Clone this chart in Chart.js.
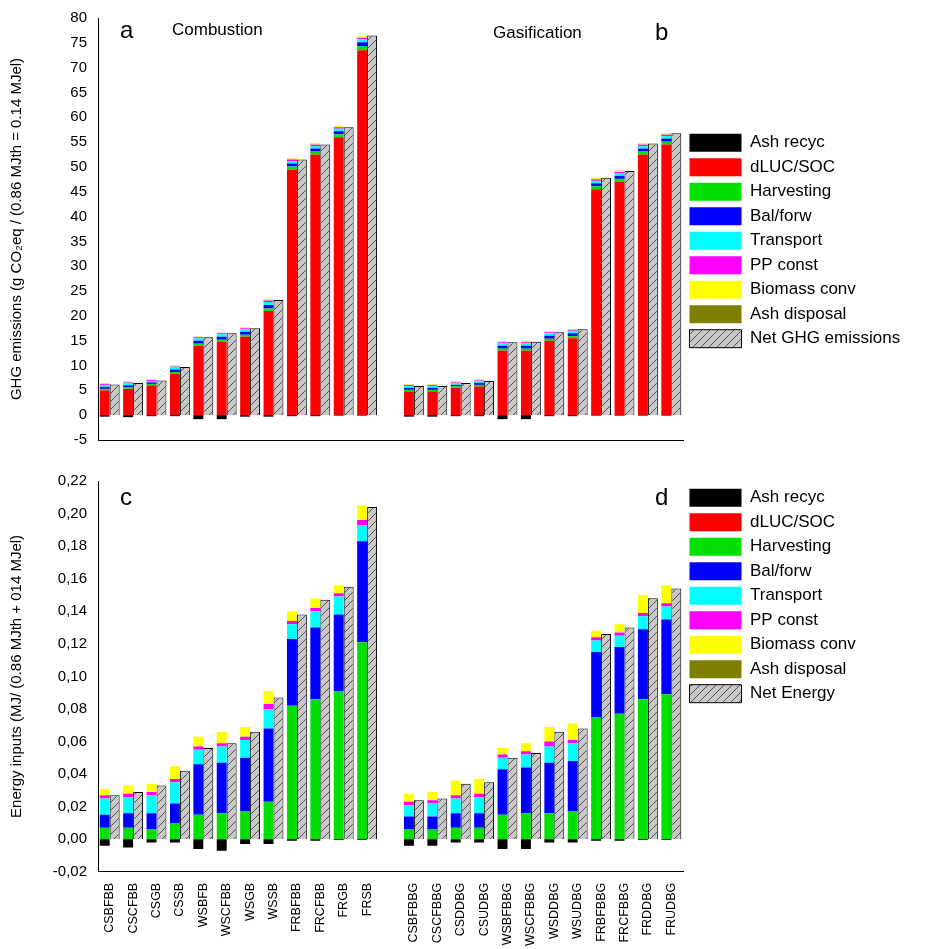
<!DOCTYPE html>
<html><head><meta charset="utf-8">
<script src="https://cdn.jsdelivr.net/npm/chart.js@4"></script>
<style>body{margin:0;background:#fff}#a{position:absolute;left:0;top:0;width:933px;height:470px}#b{position:absolute;left:0;top:465px;width:933px;height:484px}</style>
</head><body>
<div id="a"><canvas id="c1"></canvas></div>
<div id="b"><canvas id="c2"></canvas></div>
<script>
const labels=['CSBFBB','CSCFBB','CSGB','CSSB','WSBFB','WSCFBB','WSGB','WSSB','FRBFBB','FRCFBB','FRGB','FRSB','',
'CSBFBBG','CSCFBBG','CSDDBG','CSUDBG','WSBFBBG','WSCFBBG','WSDDBG','WSUDBG','FRBFBBG','FRCFBBG','FRDDBG','FRUDBG'];
const seriesNames=['Ash recyc','dLUC/SOC','Harvesting','Bal/forw','Transport','PP const','Biomass conv','Ash disposal'];
const colors=['#000000','#ff0000','#00e000','#0000ff','#00ffff','#ff00ff','#ffff00','#808000'];
// GHG (top)
const ghgAsh=[-0.3,-0.4,-0.2,-0.2,-0.8,-0.8,-0.3,-0.3,-0.2,-0.2,-0.1,-0.1,null,-0.3,-0.3,-0.2,-0.2,-0.8,-0.8,-0.2,-0.2,-0.1,-0.1,-0.1,-0.1];
const ghgLUC=[5,5.3,6,8.3,14,14.8,15.8,21,49.5,52.5,56,73.5,null,4.8,4.8,5.5,5.8,13,13,15,15.5,45.5,47,52.5,54.5];
const ghgHarv=[0.3,0.3,0.3,0.4,0.4,0.4,0.4,0.5,0.6,0.6,0.6,0.8,null,0.3,0.3,0.3,0.3,0.4,0.4,0.4,0.4,0.6,0.6,0.6,0.6];
const ghgBal=[0.4,0.4,0.3,0.5,0.6,0.6,0.6,0.7,0.6,0.6,0.6,0.8,null,0.4,0.4,0.3,0.4,0.6,0.6,0.6,0.6,0.6,0.6,0.6,0.6];
const ghgTrans=[0.4,0.4,0.3,0.4,0.5,0.5,0.5,0.6,0.5,0.5,0.5,0.6,null,0.4,0.4,0.3,0.3,0.5,0.5,0.5,0.5,0.5,0.5,0.5,0.5];
const ghgPP=[0.2,0.2,0.2,0.2,0.2,0.2,0.2,0.3,0.3,0.3,0.3,0.3,null,0.2,0.2,0.2,0.2,0.2,0.2,0.2,0.2,0.3,0.3,0.3,0.3];
const ghgConv=[0.1,0.1,0.1,0.1,0.1,0.1,0.1,0.2,0.2,0.2,0.2,0.3,null,0.1,0.1,0.1,0.1,0.1,0.1,0.1,0.1,0.2,0.2,0.2,0.2];
const ghgDisp=[0.05,0.05,0.05,0.05,0.05,0.05,0.05,0.05,0.05,0.05,0.05,0.05,null,0.05,0.05,0.05,0.05,0.05,0.05,0.05,0.05,0.05,0.05,0.05,0.05];
const ghgNet=[6.2,6.5,7,9.7,15.7,16.5,17.5,23.2,51.5,54.5,58,76.5,null,5.9,5.9,6.5,6.9,14.7,14.8,16.7,17.3,47.8,49.2,54.7,56.8];
// Energy (bottom)
const enAsh=[-0.004,-0.005,-0.002,-0.002,-0.006,-0.007,-0.003,-0.003,-0.001,-0.001,-0.0005,-0.0005,null,-0.004,-0.004,-0.002,-0.002,-0.006,-0.006,-0.002,-0.002,-0.001,-0.001,-0.0005,-0.0005];
const enLUC=[0,0,0,0,0,0,0,0,0,0,0,0,null,0,0,0,0,0,0,0,0,0,0,0,0];
const enHarv=[0.007,0.007,0.006,0.010,0.015,0.016,0.017,0.023,0.082,0.086,0.091,0.121,null,0.006,0.006,0.007,0.007,0.015,0.016,0.016,0.017,0.075,0.077,0.086,0.089];
const enBal=[0.008,0.009,0.010,0.012,0.031,0.031,0.033,0.045,0.041,0.044,0.047,0.062,null,0.008,0.008,0.009,0.009,0.028,0.028,0.031,0.031,0.040,0.041,0.043,0.046];
const enTrans=[0.010,0.010,0.011,0.013,0.009,0.010,0.011,0.012,0.009,0.010,0.011,0.010,null,0.007,0.008,0.009,0.010,0.007,0.008,0.010,0.011,0.007,0.007,0.008,0.008];
const enPP=[0.002,0.002,0.002,0.002,0.002,0.002,0.002,0.003,0.002,0.002,0.002,0.003,null,0.002,0.002,0.002,0.002,0.002,0.002,0.003,0.002,0.002,0.002,0.002,0.002];
const enConv=[0.004,0.005,0.005,0.008,0.006,0.007,0.006,0.008,0.006,0.006,0.005,0.009,null,0.005,0.005,0.009,0.009,0.004,0.005,0.009,0.010,0.004,0.005,0.011,0.011];
const enDisp=[0,0,0,0,0,0,0,0,0,0,0,0,null,0,0,0,0,0,0,0,0,0,0,0,0];
const enNet=[0.027,0.029,0.033,0.042,0.056,0.059,0.066,0.087,0.138,0.147,0.155,0.204,null,0.024,0.025,0.034,0.035,0.050,0.053,0.066,0.068,0.126,0.130,0.148,0.154];

function hatch(){const c=document.createElement('canvas');c.width=8;c.height=8;const x=c.getContext('2d');
x.fillStyle='#c8c8c8';x.fillRect(0,0,8,8);x.strokeStyle='#333';x.lineWidth=0.8;x.beginPath();
x.moveTo(0,8);x.lineTo(8,0);x.moveTo(-2,2);x.lineTo(2,-2);x.moveTo(6,10);x.lineTo(10,6);x.stroke();
return document.getElementById('c1').getContext('2d').createPattern(c,'repeat');}
const pat=hatch();

function texts(items){return {id:'t',afterDraw(ch){const x=ch.ctx;x.save();x.fillStyle='#000';
items.forEach(i=>{x.font=i[3];x.fillText(i[0],i[1],i[2]);});x.restore();}};}
const legW={id:'lw',beforeInit(ch){const l=ch.legend;if(!l)return;const f=l.fit;l.fit=function(){f.call(this);this.width=250;};}};

function make(id,comps,net,netName,min,max,step,fmt,title,showX,txt,legTop,padTop){
 const ds=comps.map((d,i)=>({label:seriesNames[i],data:d,backgroundColor:colors[i],stack:'c',barPercentage:1,categoryPercentage:0.85,borderWidth:0}));
 ds.push({label:netName,data:net,backgroundColor:pat,borderColor:'#000',borderWidth:1,stack:'n',barPercentage:1,categoryPercentage:0.85});
 new Chart(document.getElementById(id),{type:'bar',data:{labels,datasets:ds},
 options:{responsive:true,maintainAspectRatio:false,animation:false,
 layout:{padding:{top:padTop,left:4,bottom:showX?0:22}},
 plugins:{tooltip:{enabled:false},legend:{position:'right',align:'start',
   title:{display:true,text:' ',padding:{top:legTop,bottom:0},font:{size:1}},
   labels:{boxWidth:52,boxHeight:18,padding:6.5,color:'#000',font:{size:17,family:'Liberation Sans'}}}},
 scales:{x:{stacked:true,grid:{display:false},border:{color:'#000'},ticks:{display:showX,autoSkip:false,maxRotation:90,minRotation:90,color:'#000',font:{size:12.5,family:'Liberation Sans'}}},
 y:{stacked:true,min,max,grid:{display:false},border:{color:'#000'},afterFit(s){s.width=94;},ticks:{stepSize:step,color:'#000',font:{size:15,family:'Liberation Sans'},callback:fmt},
 title:{display:true,text:title,color:'#000',font:{size:15,family:'Liberation Sans'}}}}},
 plugins:[legW,texts(txt)]});
}
make('c1',[ghgAsh,ghgLUC,ghgHarv,ghgBal,ghgTrans,ghgPP,ghgConv,ghgDisp],ghgNet,'Net GHG emissions',-5,80,5,v=>v,
 'GHG emissions (g CO₂eq / (0.86 MJth = 0.14 MJel)',false,
 [['a',120,38,'24px Liberation Sans'],['Combustion',172,35,'17px Liberation Sans'],['Gasification',493,38,'17px Liberation Sans'],['b',655,40,'24px Liberation Sans']],108,18);
make('c2',[enAsh,enLUC,enHarv,enBal,enTrans,enPP,enConv,enDisp],enNet,'Net Energy',-0.02,0.22,0.02,v=>v.toFixed(2).replace('.',','),
 'Energy inputs (MJ/ (0.86 MJth + 014 MJel)',true,
 [['c',120,40,'24px Liberation Sans'],['d',655,40,'24px Liberation Sans']],0,16);
</script></body></html>
